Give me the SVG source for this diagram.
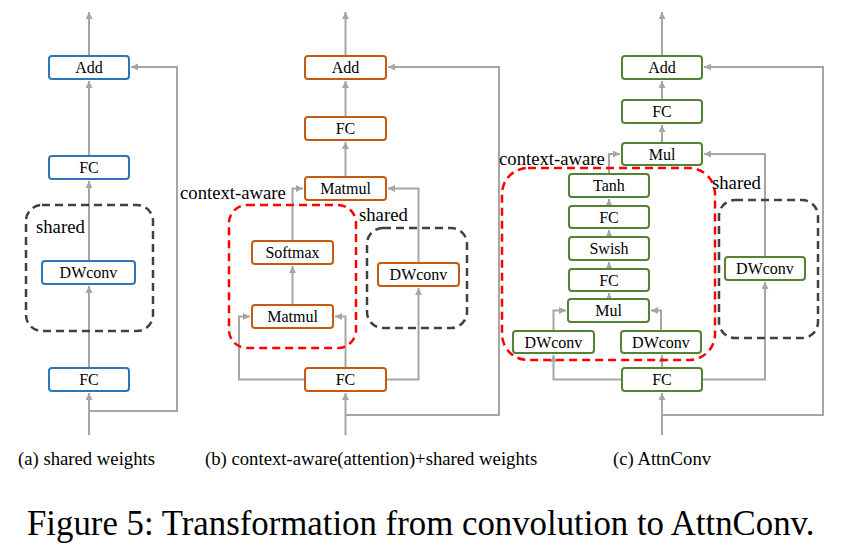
<svg xmlns="http://www.w3.org/2000/svg" width="846" height="549" viewBox="0 0 846 549">
<style>
.n rect{fill:#fff;stroke-width:2}
.a rect{stroke:#2E75B6}
.b rect{stroke:#C55A11}
.c rect{stroke:#548235}
.n text{font-family:"Liberation Serif","Times New Roman",serif;font-size:16px;text-anchor:middle;fill:#000}
.lbl{font-family:"Liberation Serif","Times New Roman",serif;font-size:18.7px;fill:#000}
.cap{font-family:"Liberation Serif","Times New Roman",serif;font-size:18.7px;fill:#000}
.title{font-family:"Liberation Serif","Times New Roman",serif;font-size:34.8px;fill:#000}
.e path{fill:none;stroke:#A6A6A6;stroke-width:2;marker-end:url(#ah)}
.sh{fill:none;stroke:#404040;stroke-width:2.5;stroke-dasharray:8 5}
.ca{fill:none;stroke:#FF0000;stroke-width:2.5;stroke-dasharray:8 5}
</style>
<defs>
<marker id="ah" markerUnits="userSpaceOnUse" markerWidth="8" markerHeight="8" refX="7" refY="3.5" orient="auto">
<path d="M0,0 L7,3.5 L0,7 z" fill="#A6A6A6"/>
</marker>
</defs>
<rect width="846" height="549" fill="#fff"/>

<g id="connectors" class="e">
<!-- panel a -->
<path d="M89,435 V393"/>
<path d="M89,411 H177 V67 H131"/>
<path d="M89,368 V286"/>
<path d="M89,261 V181"/>
<path d="M89,156 V81"/>
<path d="M89,56 V12"/>
<!-- panel b -->
<path d="M345.5,435 V393"/>
<path d="M345.5,415 H499 V67 H388"/>
<path d="M305,379.5 H239 V316.5 H250"/>
<path d="M345.5,368 V316.5 H335"/>
<path d="M386,379.5 H418.5 V288"/>
<path d="M418.5,263 V188.5 H388"/>
<path d="M292.5,305 V266"/>
<path d="M292.5,241 V188.5 H303"/>
<path d="M345.5,177 V142"/>
<path d="M345.5,117 V81"/>
<path d="M345.5,56 V12"/>
<!-- panel c -->
<path d="M662,435 V393"/>
<path d="M662,415 H823 V67 H704"/>
<path d="M622,379.5 H553.5 V355"/>
<path d="M662,368 V355"/>
<path d="M702,379.5 H765 V282"/>
<path d="M765,257 V154 H704"/>
<path d="M553.5,331 V310.5 H566"/>
<path d="M661,331 V310.5 H651"/>
<path d="M609,299 V293"/>
<path d="M609,269 V262"/>
<path d="M609,237 V230"/>
<path d="M609,206 V199"/>
<path d="M609,174 V154 H620"/>
<path d="M662,143 V125"/>
<path d="M662,100 V81"/>
<path d="M662,56 V12"/>
</g>

<!-- panel a -->
<g id="a-shared"><rect class="sh" x="26" y="205" width="127" height="126" rx="16"/><text class="lbl" x="36" y="233">shared</text></g>
<g id="a-add" class="n a"><rect x="49" y="56" width="80" height="23" rx="3"/><text x="89" y="73">Add</text></g>
<g id="a-fc1" class="n a"><rect x="49" y="156" width="80" height="23" rx="3"/><text x="89" y="173">FC</text></g>
<g id="a-dwconv" class="n a"><rect x="42" y="261" width="93" height="23" rx="3"/><text x="88.5" y="278">DWconv</text></g>
<g id="a-fc0" class="n a"><rect x="49" y="368" width="80" height="23" rx="3"/><text x="89" y="385">FC</text></g>

<!-- panel b -->
<g id="b-context"><rect class="ca" x="229" y="205" width="127" height="143" rx="18"/><text class="lbl" x="180" y="199">context-aware</text></g>
<g id="b-shared"><rect class="sh" x="367" y="228" width="100" height="100" rx="16"/><text class="lbl" x="359" y="221">shared</text></g>
<g id="b-add" class="n b"><rect x="305" y="56" width="81" height="23" rx="3"/><text x="345.5" y="73">Add</text></g>
<g id="b-fc1" class="n b"><rect x="305" y="117" width="81" height="23" rx="3"/><text x="345.5" y="134">FC</text></g>
<g id="b-matmul2" class="n b"><rect x="305" y="177" width="81" height="23" rx="3"/><text x="345.5" y="194">Matmul</text></g>
<g id="b-softmax" class="n b"><rect x="252" y="241" width="81" height="23" rx="3"/><text x="292.5" y="258">Softmax</text></g>
<g id="b-matmul1" class="n b"><rect x="252" y="305" width="81" height="23" rx="3"/><text x="292.5" y="322">Matmul</text></g>
<g id="b-dwconv" class="n b"><rect x="378" y="263" width="81" height="23" rx="3"/><text x="418.5" y="280">DWconv</text></g>
<g id="b-fc0" class="n b"><rect x="305" y="368" width="81" height="23" rx="3"/><text x="345.5" y="385">FC</text></g>

<!-- panel c -->
<g id="c-context"><rect class="ca" x="502" y="168" width="213" height="192" rx="26"/><text class="lbl" x="499" y="165">context-aware</text></g>
<g id="c-shared"><rect class="sh" x="719" y="200" width="99" height="138" rx="16"/><text class="lbl" x="712" y="189">shared</text></g>
<g id="c-add" class="n c"><rect x="622" y="56" width="80" height="23" rx="3"/><text x="662" y="73">Add</text></g>
<g id="c-fc2" class="n c"><rect x="622" y="100" width="80" height="23" rx="3"/><text x="662" y="117">FC</text></g>
<g id="c-mul2" class="n c"><rect x="622" y="143" width="80" height="22" rx="3"/><text x="662" y="159.5">Mul</text></g>
<g id="c-tanh" class="n c"><rect x="569" y="174" width="80" height="23" rx="3"/><text x="609" y="191">Tanh</text></g>
<g id="c-fcb" class="n c"><rect x="569" y="206" width="80" height="22" rx="3"/><text x="609" y="222.5">FC</text></g>
<g id="c-swish" class="n c"><rect x="569" y="237" width="80" height="23" rx="3"/><text x="609" y="254">Swish</text></g>
<g id="c-fca" class="n c"><rect x="569" y="269" width="80" height="22" rx="3"/><text x="609" y="285.5">FC</text></g>
<g id="c-mul1" class="n c"><rect x="568" y="299" width="81" height="23" rx="3"/><text x="608.5" y="316">Mul</text></g>
<g id="c-dwconvl" class="n c"><rect x="513" y="331" width="81" height="22" rx="3"/><text x="553.5" y="347.5">DWconv</text></g>
<g id="c-dwconvr" class="n c"><rect x="621" y="331" width="80" height="22" rx="3"/><text x="661" y="347.5">DWconv</text></g>
<g id="c-dwconvs" class="n c"><rect x="725" y="257" width="80" height="23" rx="3"/><text x="765" y="274">DWconv</text></g>
<g id="c-fc0" class="n c"><rect x="622" y="368" width="80" height="23" rx="3"/><text x="662" y="385">FC</text></g>

<text class="cap" x="18" y="465">(a) shared weights</text>
<text class="cap" x="205" y="465">(b) context-aware(attention)+shared weights</text>
<text class="cap" x="613" y="465">(c) AttnConv</text>
<text class="title" x="27" y="535">Figure 5: Transformation from convolution to AttnConv.</text>
</svg>
